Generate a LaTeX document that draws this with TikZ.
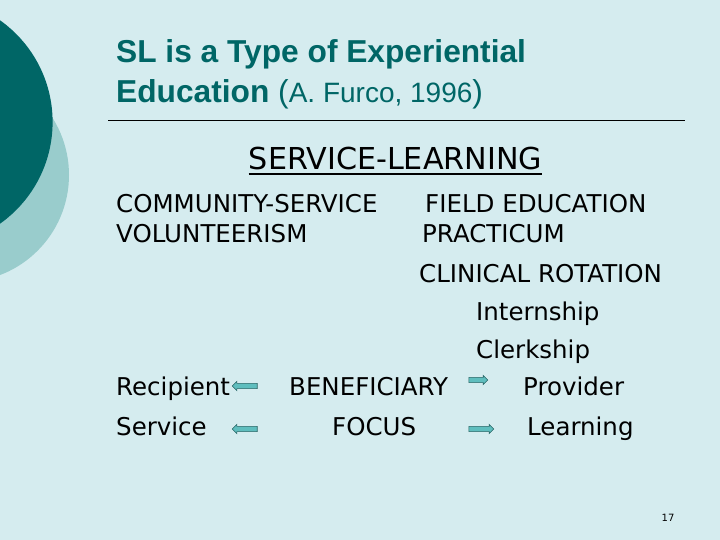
\documentclass[tikz,border=0pt]{standalone}
\usepackage{fontspec}
\setmainfont{DejaVu Sans}
\newfontfamily\titlefont{Liberation Sans}
\usetikzlibrary{shapes.arrows}

\definecolor{slideBg}{RGB}{213,236,239}
\definecolor{darkTeal}{RGB}{0,102,102}
\definecolor{lightTeal}{RGB}{153,204,204}
\definecolor{arrowFill}{RGB}{95,190,190}
\definecolor{arrowLine}{RGB}{40,100,100}

\begin{document}
\begin{tikzpicture}[x=1pt,y=-1pt,
  txt/.style={anchor=base west,inner sep=0pt,font=\fontsize{24.5}{24.5}\selectfont},
  blockarrow/.style={single arrow,draw=arrowLine,fill=arrowFill,line width=0.6pt,
    inner sep=2.3pt,minimum height=25pt,single arrow head extend=2pt,
    single arrow head indent=0pt}]

  % Background
  \fill[slideBg] (0,0) rectangle (720,540);
  \useasboundingbox (0,0) rectangle (720,540);
  \fill[lightTeal] (-38,175) circle (107pt);
  \fill[darkTeal] (-72,122) circle (124.6pt);

  % Title
  \node[anchor=base west,inner sep=0pt,text=darkTeal,
    font=\titlefont\bfseries\fontsize{31.7}{31.7}\selectfont] (title1) at (116,63)
    {SL is a Type of Experiential};
  \node[anchor=base west,inner sep=0pt,text=darkTeal,
    font=\titlefont\bfseries\fontsize{31.7}{31.7}\selectfont] (title2) at (116,103)
    {Education {\mdseries(\fontsize{28}{28}\selectfont A. Furco, 1996\fontsize{31.7}{31.7}\selectfont)}};
  \draw[line width=0.7pt] (108,120) -- (685,120);

  % Heading
  \node[anchor=base,inner sep=0pt,font=\fontsize{30.2}{30.2}\selectfont] (sl) at (395.5,170)
    {SERVICE-LEARNING};
  \draw[line width=2.2pt] ([yshift=-4pt]sl.base west) -- ([yshift=-4pt]sl.base east);

  % Texts
  \foreach \n/\x/\y/\t in {cs/116/212/COMMUNITY-SERVICE, vol/116/243/VOLUNTEERISM,
      fe/425/212/FIELD EDUCATION, pra/422/243/PRACTICUM, cr/419/282/CLINICAL ROTATION,
      intern/476/320/Internship, clerk/476/358/Clerkship,
      rec/116/395/Recipient, ben/289/395/BENEFICIARY, prov/523/395/Provider,
      serv/116/435/Service, foc/332/435/FOCUS, learn/527/435/Learning}
    {\node[txt] (\n) at (\x,\y) {\t};}

  % Arrows
  \node[blockarrow,shape border rotate=180] (recarrow) at (246,386) {};
  \node[blockarrow,shape border rotate=180] (servarrow) at (246,429) {};
  \node[blockarrow,minimum height=19pt] (provarrow) at (477,380) {};
  \node[blockarrow] (learnarrow) at (480,429) {};

  % Page number
  \node[anchor=base,inner sep=0pt,font=\fontsize{10}{10}\selectfont] (pagenum) at (668,521) {17};

\end{tikzpicture}
\end{document}
